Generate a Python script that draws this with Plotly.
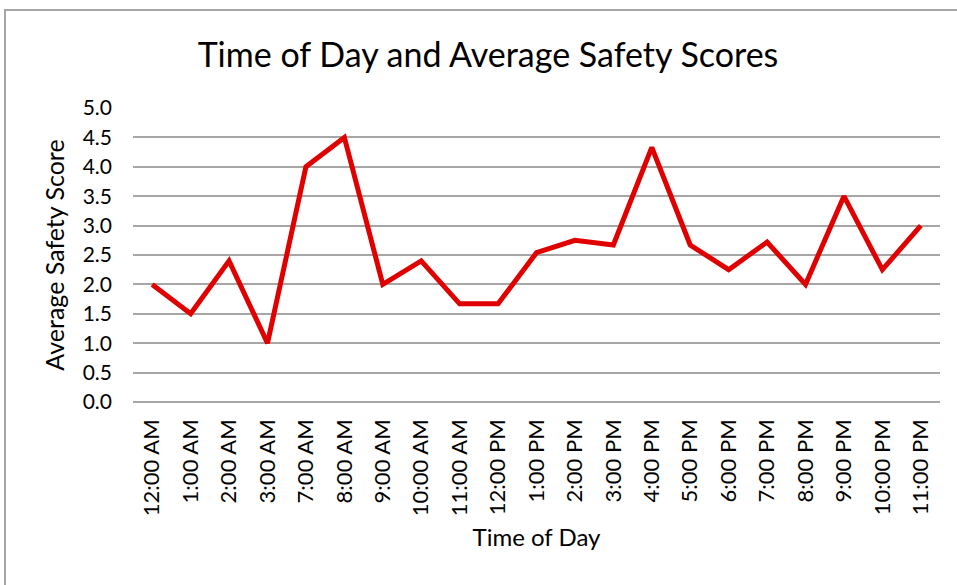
import plotly.graph_objects as go

categories = ["12:00 AM", "1:00 AM", "2:00 AM", "3:00 AM", "7:00 AM", "8:00 AM",
              "9:00 AM", "10:00 AM", "11:00 AM", "12:00 PM", "1:00 PM", "2:00 PM",
              "3:00 PM", "4:00 PM", "5:00 PM", "6:00 PM", "7:00 PM", "8:00 PM",
              "9:00 PM", "10:00 PM", "11:00 PM"]
scores = [2.0, 1.5, 2.4, 1.0, 4.0, 4.5, 2.0, 2.4, 1.67, 1.67, 2.54,
          2.75, 2.67, 4.33, 2.67, 2.25, 2.72, 2.0, 3.5, 2.25, 3.0]
y_ticks = [0.0, 0.5, 1.0, 1.5, 2.0, 2.5, 3.0, 3.5, 4.0, 4.5, 5.0]

TITLE_FONT = "Lato"
TICK_FONT = "Lato"
grid = "#a6a6a6"

W, H = 957, 585
L, T = 133, 108
R = W - 940
B = H - 402

fig = go.Figure()
fig.add_trace(go.Scatter(
    x=categories, y=scores, mode="lines",
    line=dict(color="#e00000", width=5, shape="linear"),
    hoverinfo="x+y",
))

plot_h = H - T - B
plot_w = W - L - R

fig.update_layout(
    width=W, height=H,
    margin=dict(l=L, r=R, t=T, b=B),
    paper_bgcolor="white", plot_bgcolor="white",
    showlegend=False,
    font=dict(family=TICK_FONT),
    title=dict(text="Time of Day and Average Safety Scores",
               font=dict(family=TITLE_FONT, size=34, color="black"),
               x=488 / W, xanchor="center",
               y=1 - 55 / H, yanchor="middle"),
    xaxis=dict(type="category", tickangle=-90, range=[-0.5, len(categories) - 0.5],
               tickfont=dict(family=TICK_FONT, size=22, color="black"),
               showgrid=False, showline=False, ticks="", ticklabelstandoff=12,
               title=dict(text="Time of Day", font=dict(family=TITLE_FONT, size=24, color="black"),
                          standoff=14)),
    yaxis=dict(range=[0, 5.0], tickvals=y_ticks,
               ticktext=[f"{v:.1f}" for v in y_ticks],
               tickfont=dict(family=TITLE_FONT, size=21, color="black"),
               showgrid=True, gridcolor=grid, gridwidth=2,
               zeroline=True, zerolinecolor=grid, zerolinewidth=2,
               showline=False, ticks="", ticklabelstandoff=20,
               title=dict(text="Average Safety Score",
                          font=dict(family=TITLE_FONT, size=25, color="black"),
                          standoff=10)),
    shapes=[dict(type="rect", xref="paper", yref="paper",
                 x0=(5 - L) / plot_w, x1=1.2, y0=-1.0, y1=(402 - 10) / plot_h,
                 line=dict(color="#a6a6a6", width=2), fillcolor="rgba(0,0,0,0)",
                 layer="below")],
)

fig.write_html("out.html", config={"displayModeBar": False},
               post_script="document.body.style.margin='0';document.body.style.padding='0';")
